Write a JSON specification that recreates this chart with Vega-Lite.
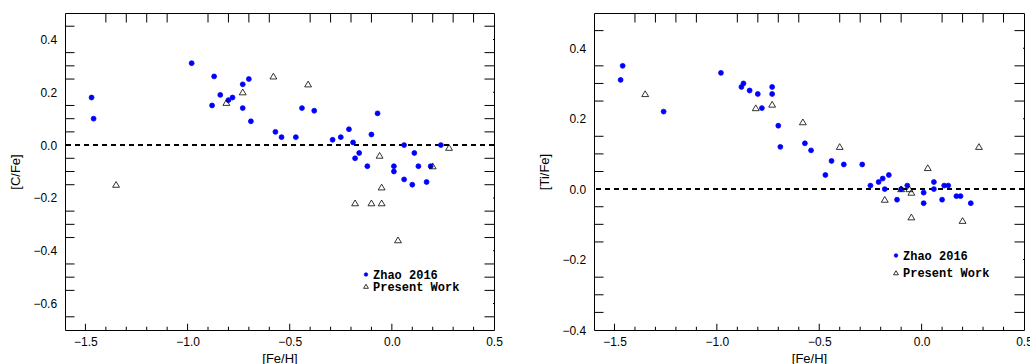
{
  "$schema": "https://vega.github.io/schema/vega-lite/v6.json",
  "background": "white",
  "padding": {"left": 9, "top": 12, "right": 0, "bottom": 0},
  "spacing": 35,
  "config": {
    "view": {"stroke": "black", "strokeWidth": 1},
    "axis": {"ticks": false, "domain": false, "grid": false, "labelFont": "Liberation Sans", "labelFontSize": 12, "labelColor": "black", "labelFlush": false, "labelOverlap": false, "labelBound": false, "titleFont": "Liberation Sans", "titleFontSize": 13, "titleFontWeight": "normal", "titleColor": "black", "minExtent": 0},
    "legend": {"title": null, "labelFont": "Liberation Mono", "labelFontSize": 12, "labelFontWeight": "bold", "labelColor": "black", "symbolSize": 12, "symbolStrokeWidth": 0.8, "labelOffset": 1, "padding": 0},
    "tick": {"color": "black", "thickness": 1, "opacity": 1}
  },
  "datasets": {
    "xt": [
      {"pos": -1.5, "kind": "xmaj"}, {"pos": -1.0, "kind": "xmaj"}, {"pos": -0.5, "kind": "xmaj"}, {"pos": 0.0, "kind": "xmaj"},
      {"pos": -1.4, "kind": "xmin"}, {"pos": -1.3, "kind": "xmin"}, {"pos": -1.2, "kind": "xmin"}, {"pos": -1.1, "kind": "xmin"},
      {"pos": -0.9, "kind": "xmin"}, {"pos": -0.8, "kind": "xmin"}, {"pos": -0.7, "kind": "xmin"}, {"pos": -0.6, "kind": "xmin"},
      {"pos": -0.4, "kind": "xmin"}, {"pos": -0.3, "kind": "xmin"}, {"pos": -0.2, "kind": "xmin"}, {"pos": -0.1, "kind": "xmin"},
      {"pos": 0.1, "kind": "xmin"}, {"pos": 0.2, "kind": "xmin"}, {"pos": 0.3, "kind": "xmin"}, {"pos": 0.4, "kind": "xmin"}
    ],
    "yt1": [
      {"pos": -0.6, "kind": "ymaj"}, {"pos": -0.4, "kind": "ymaj"}, {"pos": -0.2, "kind": "ymaj"}, {"pos": 0.0, "kind": "ymaj"}, {"pos": 0.2, "kind": "ymaj"}, {"pos": 0.4, "kind": "ymaj"},
      {"pos": -0.65, "kind": "ymin"}, {"pos": -0.55, "kind": "ymin"}, {"pos": -0.5, "kind": "ymin"}, {"pos": -0.45, "kind": "ymin"},
      {"pos": -0.35, "kind": "ymin"}, {"pos": -0.3, "kind": "ymin"}, {"pos": -0.25, "kind": "ymin"}, {"pos": -0.15, "kind": "ymin"},
      {"pos": -0.1, "kind": "ymin"}, {"pos": -0.05, "kind": "ymin"}, {"pos": 0.05, "kind": "ymin"}, {"pos": 0.1, "kind": "ymin"},
      {"pos": 0.15, "kind": "ymin"}, {"pos": 0.25, "kind": "ymin"}, {"pos": 0.3, "kind": "ymin"}, {"pos": 0.35, "kind": "ymin"}, {"pos": 0.45, "kind": "ymin"}
    ],
    "yt2": [
      {"pos": -0.2, "kind": "ymaj"}, {"pos": 0.0, "kind": "ymaj"}, {"pos": 0.2, "kind": "ymaj"}, {"pos": 0.4, "kind": "ymaj"},
      {"pos": -0.35, "kind": "ymin"}, {"pos": -0.3, "kind": "ymin"}, {"pos": -0.25, "kind": "ymin"}, {"pos": -0.15, "kind": "ymin"},
      {"pos": -0.1, "kind": "ymin"}, {"pos": -0.05, "kind": "ymin"}, {"pos": 0.05, "kind": "ymin"}, {"pos": 0.1, "kind": "ymin"},
      {"pos": 0.15, "kind": "ymin"}, {"pos": 0.25, "kind": "ymin"}, {"pos": 0.3, "kind": "ymin"}, {"pos": 0.35, "kind": "ymin"}, {"pos": 0.45, "kind": "ymin"}
    ],
    "cfe": [
      {"feh": -1.47, "val": 0.18, "src": "Zhao 2016"},
      {"feh": -1.46, "val": 0.10, "src": "Zhao 2016"},
      {"feh": -0.98, "val": 0.31, "src": "Zhao 2016"},
      {"feh": -0.87, "val": 0.26, "src": "Zhao 2016"},
      {"feh": -0.88, "val": 0.15, "src": "Zhao 2016"},
      {"feh": -0.84, "val": 0.19, "src": "Zhao 2016"},
      {"feh": -0.80, "val": 0.17, "src": "Zhao 2016"},
      {"feh": -0.78, "val": 0.18, "src": "Zhao 2016"},
      {"feh": -0.73, "val": 0.23, "src": "Zhao 2016"},
      {"feh": -0.70, "val": 0.25, "src": "Zhao 2016"},
      {"feh": -0.73, "val": 0.14, "src": "Zhao 2016"},
      {"feh": -0.69, "val": 0.09, "src": "Zhao 2016"},
      {"feh": -0.57, "val": 0.05, "src": "Zhao 2016"},
      {"feh": -0.54, "val": 0.03, "src": "Zhao 2016"},
      {"feh": -0.47, "val": 0.03, "src": "Zhao 2016"},
      {"feh": -0.44, "val": 0.14, "src": "Zhao 2016"},
      {"feh": -0.38, "val": 0.13, "src": "Zhao 2016"},
      {"feh": -0.29, "val": 0.02, "src": "Zhao 2016"},
      {"feh": -0.25, "val": 0.03, "src": "Zhao 2016"},
      {"feh": -0.21, "val": 0.06, "src": "Zhao 2016"},
      {"feh": -0.19, "val": 0.01, "src": "Zhao 2016"},
      {"feh": -0.16, "val": -0.03, "src": "Zhao 2016"},
      {"feh": -0.18, "val": -0.05, "src": "Zhao 2016"},
      {"feh": -0.12, "val": -0.08, "src": "Zhao 2016"},
      {"feh": -0.10, "val": 0.04, "src": "Zhao 2016"},
      {"feh": -0.07, "val": 0.12, "src": "Zhao 2016"},
      {"feh": 0.01, "val": -0.08, "src": "Zhao 2016"},
      {"feh": 0.01, "val": -0.10, "src": "Zhao 2016"},
      {"feh": 0.06, "val": 0.00, "src": "Zhao 2016"},
      {"feh": 0.06, "val": -0.13, "src": "Zhao 2016"},
      {"feh": 0.10, "val": -0.15, "src": "Zhao 2016"},
      {"feh": 0.11, "val": -0.03, "src": "Zhao 2016"},
      {"feh": 0.13, "val": -0.08, "src": "Zhao 2016"},
      {"feh": 0.17, "val": -0.14, "src": "Zhao 2016"},
      {"feh": 0.19, "val": -0.08, "src": "Zhao 2016"},
      {"feh": 0.24, "val": 0.00, "src": "Zhao 2016"},
      {"feh": -1.35, "val": -0.15, "src": "Present Work"},
      {"feh": -0.81, "val": 0.16, "src": "Present Work"},
      {"feh": -0.73, "val": 0.20, "src": "Present Work"},
      {"feh": -0.58, "val": 0.26, "src": "Present Work"},
      {"feh": -0.41, "val": 0.23, "src": "Present Work"},
      {"feh": -0.06, "val": -0.04, "src": "Present Work"},
      {"feh": -0.05, "val": -0.16, "src": "Present Work"},
      {"feh": -0.18, "val": -0.22, "src": "Present Work"},
      {"feh": -0.10, "val": -0.22, "src": "Present Work"},
      {"feh": -0.05, "val": -0.22, "src": "Present Work"},
      {"feh": 0.03, "val": -0.36, "src": "Present Work"},
      {"feh": 0.20, "val": -0.08, "src": "Present Work"},
      {"feh": 0.28, "val": -0.01, "src": "Present Work"}
    ],
    "tife": [
      {"feh": -1.47, "val": 0.31, "src": "Zhao 2016"},
      {"feh": -1.46, "val": 0.35, "src": "Zhao 2016"},
      {"feh": -1.26, "val": 0.22, "src": "Zhao 2016"},
      {"feh": -0.98, "val": 0.33, "src": "Zhao 2016"},
      {"feh": -0.87, "val": 0.30, "src": "Zhao 2016"},
      {"feh": -0.88, "val": 0.29, "src": "Zhao 2016"},
      {"feh": -0.84, "val": 0.28, "src": "Zhao 2016"},
      {"feh": -0.80, "val": 0.27, "src": "Zhao 2016"},
      {"feh": -0.73, "val": 0.29, "src": "Zhao 2016"},
      {"feh": -0.73, "val": 0.27, "src": "Zhao 2016"},
      {"feh": -0.78, "val": 0.23, "src": "Zhao 2016"},
      {"feh": -0.70, "val": 0.18, "src": "Zhao 2016"},
      {"feh": -0.69, "val": 0.12, "src": "Zhao 2016"},
      {"feh": -0.57, "val": 0.13, "src": "Zhao 2016"},
      {"feh": -0.54, "val": 0.11, "src": "Zhao 2016"},
      {"feh": -0.44, "val": 0.08, "src": "Zhao 2016"},
      {"feh": -0.38, "val": 0.07, "src": "Zhao 2016"},
      {"feh": -0.29, "val": 0.07, "src": "Zhao 2016"},
      {"feh": -0.47, "val": 0.04, "src": "Zhao 2016"},
      {"feh": -0.25, "val": 0.01, "src": "Zhao 2016"},
      {"feh": -0.21, "val": 0.02, "src": "Zhao 2016"},
      {"feh": -0.19, "val": 0.03, "src": "Zhao 2016"},
      {"feh": -0.16, "val": 0.04, "src": "Zhao 2016"},
      {"feh": -0.18, "val": 0.00, "src": "Zhao 2016"},
      {"feh": -0.12, "val": -0.03, "src": "Zhao 2016"},
      {"feh": -0.10, "val": 0.00, "src": "Zhao 2016"},
      {"feh": -0.07, "val": 0.01, "src": "Zhao 2016"},
      {"feh": 0.01, "val": -0.01, "src": "Zhao 2016"},
      {"feh": 0.01, "val": -0.04, "src": "Zhao 2016"},
      {"feh": 0.06, "val": 0.02, "src": "Zhao 2016"},
      {"feh": 0.06, "val": 0.00, "src": "Zhao 2016"},
      {"feh": 0.10, "val": -0.03, "src": "Zhao 2016"},
      {"feh": 0.11, "val": 0.01, "src": "Zhao 2016"},
      {"feh": 0.13, "val": 0.01, "src": "Zhao 2016"},
      {"feh": 0.17, "val": -0.02, "src": "Zhao 2016"},
      {"feh": 0.19, "val": -0.02, "src": "Zhao 2016"},
      {"feh": 0.24, "val": -0.04, "src": "Zhao 2016"},
      {"feh": -1.35, "val": 0.27, "src": "Present Work"},
      {"feh": -0.81, "val": 0.23, "src": "Present Work"},
      {"feh": -0.73, "val": 0.24, "src": "Present Work"},
      {"feh": -0.58, "val": 0.19, "src": "Present Work"},
      {"feh": -0.40, "val": 0.12, "src": "Present Work"},
      {"feh": -0.18, "val": -0.03, "src": "Present Work"},
      {"feh": -0.10, "val": 0.00, "src": "Present Work"},
      {"feh": -0.06, "val": 0.00, "src": "Present Work"},
      {"feh": -0.05, "val": -0.01, "src": "Present Work"},
      {"feh": -0.05, "val": -0.08, "src": "Present Work"},
      {"feh": 0.03, "val": 0.06, "src": "Present Work"},
      {"feh": 0.20, "val": -0.09, "src": "Present Work"},
      {"feh": 0.28, "val": 0.12, "src": "Present Work"}
    ]
  },
  "hconcat": [
    {
      "width": 429,
      "height": 317,
      "layer": [
        {
          "data": {"name": "xt"},
          "mark": {"type": "tick", "orient": "vertical", "clip": true},
          "encoding": {
            "x": {"field": "pos", "type": "quantitative", "axis": null},
            "y": {"datum": -0.7, "type": "quantitative", "axis": null},
            "size": {"field": "kind", "type": "nominal", "scale": {"type": "ordinal", "domain": ["xmaj", "xmin", "ymaj", "ymin"], "range": [12.6, 6.4, 17.2, 8.6]}, "legend": null}
          }
        },
        {
          "data": {"name": "xt"},
          "mark": {"type": "tick", "orient": "vertical", "clip": true},
          "encoding": {
            "x": {"field": "pos", "type": "quantitative", "axis": null},
            "y": {"datum": 0.5, "type": "quantitative", "axis": null},
            "size": {"field": "kind", "type": "nominal", "legend": null}
          }
        },
        {
          "data": {"name": "yt1"},
          "mark": {"type": "tick", "orient": "horizontal", "clip": true},
          "encoding": {
            "y": {"field": "pos", "type": "quantitative", "axis": null},
            "x": {"datum": -1.6, "type": "quantitative", "axis": null},
            "size": {"field": "kind", "type": "nominal", "legend": null}
          }
        },
        {
          "data": {"name": "yt1"},
          "mark": {"type": "tick", "orient": "horizontal", "clip": true},
          "encoding": {
            "y": {"field": "pos", "type": "quantitative", "axis": null},
            "x": {"datum": 0.5, "type": "quantitative", "axis": null},
            "size": {"field": "kind", "type": "nominal", "legend": null}
          }
        },
        {
          "data": {"name": "cfe"},
          "mark": {"type": "rule", "color": "black", "strokeWidth": 1, "strokeDash": [5, 4]},
          "encoding": {"y": {"datum": 0, "type": "quantitative", "axis": null}}
        },
        {
          "data": {"name": "cfe"},
          "mark": {"type": "point", "size": 24, "strokeWidth": 0.8, "opacity": 1},
          "encoding": {
            "x": {"field": "feh", "type": "quantitative", "scale": {"domain": [-1.6, 0.5], "nice": false, "zero": false},
              "axis": {"orient": "bottom", "values": [-1.5, -1.0, -0.5, 0, 0.5], "format": ".1f", "labelPadding": 6.2, "title": "[Fe/H]", "titlePadding": 5}},
            "y": {"field": "val", "type": "quantitative", "scale": {"domain": [-0.7, 0.5], "nice": false, "zero": false},
              "axis": {"orient": "left", "values": [-0.6, -0.4, -0.2, 0, 0.2, 0.4], "format": ".1f", "labelPadding": 8.4, "title": "[C/Fe]", "titlePadding": 10}},
            "shape": {"field": "src", "type": "nominal", "scale": {"domain": ["Zhao 2016", "Present Work"], "range": ["circle", "M-1.4,1.05H1.4L0,-1.3Z"]},
              "legend": {"orient": "none", "legendX": 295, "legendY": 255.5, "rowPadding": -1}},
            "fill": {"field": "src", "type": "nominal", "scale": {"domain": ["Zhao 2016", "Present Work"], "range": ["#0000ff", "transparent"]},
              "legend": {"orient": "none", "legendX": 295, "legendY": 255.5, "rowPadding": -1}},
            "stroke": {"field": "src", "type": "nominal", "scale": {"domain": ["Zhao 2016", "Present Work"], "range": ["#0000ff", "#000000"]},
              "legend": {"orient": "none", "legendX": 295, "legendY": 255.5, "rowPadding": -1}}
          }
        }
      ],
      "resolve": {"axis": {"x": "independent", "y": "independent"}}
    },
    {
      "width": 430,
      "height": 317,
      "layer": [
        {
          "data": {"name": "xt"},
          "mark": {"type": "tick", "orient": "vertical", "clip": true},
          "encoding": {
            "x": {"field": "pos", "type": "quantitative", "axis": null},
            "y": {"datum": -0.4, "type": "quantitative", "axis": null},
            "size": {"field": "kind", "type": "nominal", "scale": {"type": "ordinal", "domain": ["xmaj", "xmin", "ymaj", "ymin"], "range": [12.6, 6.4, 17.2, 8.6]}, "legend": null}
          }
        },
        {
          "data": {"name": "xt"},
          "mark": {"type": "tick", "orient": "vertical", "clip": true},
          "encoding": {
            "x": {"field": "pos", "type": "quantitative", "axis": null},
            "y": {"datum": 0.5, "type": "quantitative", "axis": null},
            "size": {"field": "kind", "type": "nominal", "legend": null}
          }
        },
        {
          "data": {"name": "yt2"},
          "mark": {"type": "tick", "orient": "horizontal", "clip": true},
          "encoding": {
            "y": {"field": "pos", "type": "quantitative", "axis": null},
            "x": {"datum": -1.6, "type": "quantitative", "axis": null},
            "size": {"field": "kind", "type": "nominal", "legend": null}
          }
        },
        {
          "data": {"name": "yt2"},
          "mark": {"type": "tick", "orient": "horizontal", "clip": true},
          "encoding": {
            "y": {"field": "pos", "type": "quantitative", "axis": null},
            "x": {"datum": 0.5, "type": "quantitative", "axis": null},
            "size": {"field": "kind", "type": "nominal", "legend": null}
          }
        },
        {
          "data": {"name": "tife"},
          "mark": {"type": "rule", "color": "black", "strokeWidth": 1, "strokeDash": [5, 4]},
          "encoding": {"y": {"datum": 0, "type": "quantitative", "axis": null}}
        },
        {
          "data": {"name": "tife"},
          "mark": {"type": "point", "size": 24, "strokeWidth": 0.8, "opacity": 1},
          "encoding": {
            "x": {"field": "feh", "type": "quantitative", "scale": {"domain": [-1.6, 0.5], "nice": false, "zero": false},
              "axis": {"orient": "bottom", "values": [-1.5, -1.0, -0.5, 0, 0.5], "format": ".1f", "labelPadding": 6.2, "title": "[Fe/H]", "titlePadding": 5}},
            "y": {"field": "val", "type": "quantitative", "scale": {"domain": [-0.4, 0.5], "nice": false, "zero": false},
              "axis": {"orient": "left", "values": [-0.4, -0.2, 0, 0.2, 0.4], "format": ".1f", "labelPadding": 8.4, "title": "[Ti/Fe]", "titlePadding": 10}},
            "shape": {"field": "src", "type": "nominal", "scale": {"domain": ["Zhao 2016", "Present Work"], "range": ["circle", "M-1.4,1.05H1.4L0,-1.3Z"]},
              "legend": {"orient": "none", "legendX": 296, "legendY": 236.5, "rowPadding": 5.5}},
            "fill": {"field": "src", "type": "nominal", "scale": {"domain": ["Zhao 2016", "Present Work"], "range": ["#0000ff", "transparent"]},
              "legend": {"orient": "none", "legendX": 296, "legendY": 236.5, "rowPadding": 5.5}},
            "stroke": {"field": "src", "type": "nominal", "scale": {"domain": ["Zhao 2016", "Present Work"], "range": ["#0000ff", "#000000"]},
              "legend": {"orient": "none", "legendX": 296, "legendY": 236.5, "rowPadding": 5.5}}
          }
        }
      ],
      "resolve": {"axis": {"x": "independent", "y": "independent"}}
    }
  ],
  "resolve": {
    "scale": {"shape": "independent", "fill": "independent", "stroke": "independent", "size": "independent"},
    "legend": {"shape": "independent", "fill": "independent", "stroke": "independent"}
  }
}
